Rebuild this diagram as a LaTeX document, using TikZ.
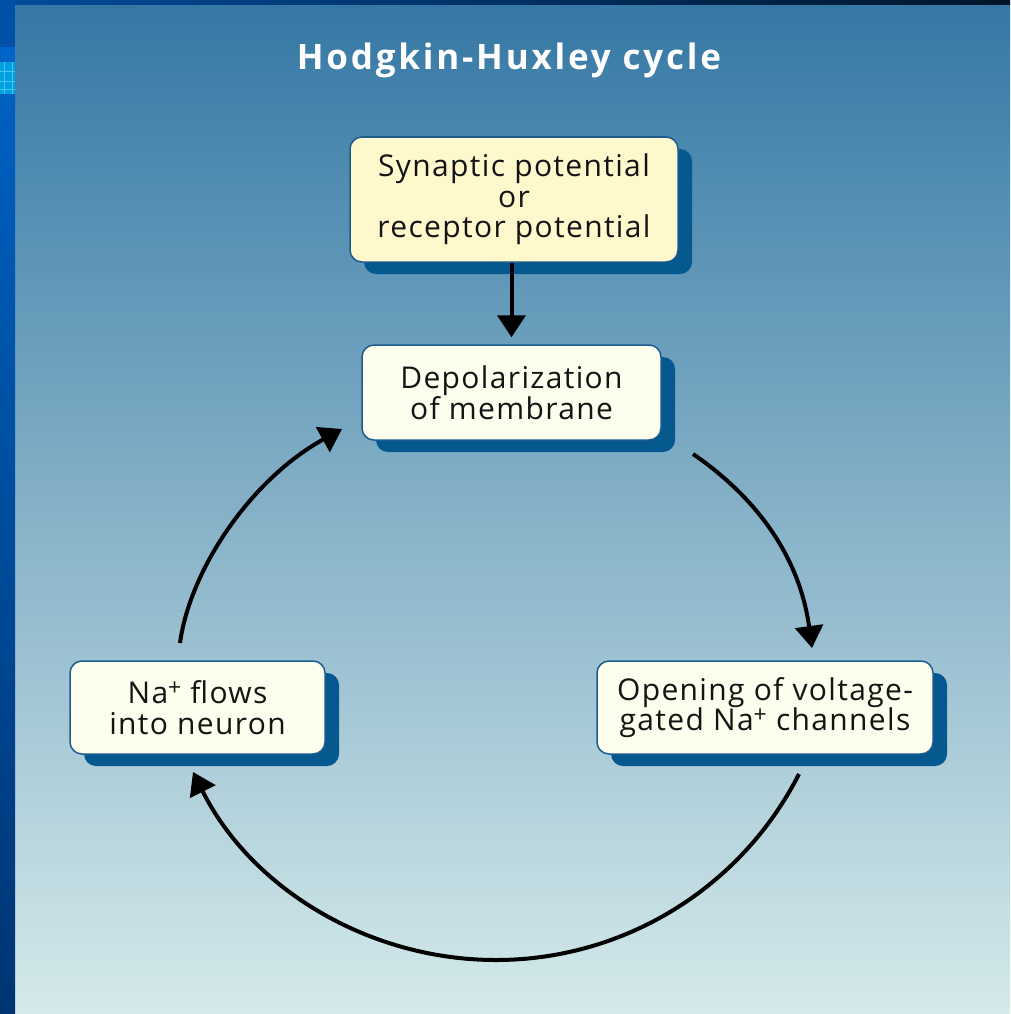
\documentclass[tikz,border=0pt]{standalone}
\usepackage{fontspec}
\setmainfont{Open Sans}
\newfontfamily\boxfont{Open Sans}[LetterSpace=4.5]
\newfontfamily\titlefont{Open Sans}[LetterSpace=8]
\usetikzlibrary{arrows.meta,shadows}
\definecolor{bgtop}{HTML}{3578A5}
\definecolor{bgmid}{HTML}{84ABC8}
\definecolor{bgbot}{HTML}{D5EAEA}
\definecolor{stripA}{HTML}{0050A8}
\definecolor{stripB}{HTML}{0064C8}
\definecolor{stripC}{HTML}{00A0E0}
\definecolor{stripD}{HTML}{40C8F8}
\definecolor{stripE}{HTML}{0060C0}
\definecolor{stripF}{HTML}{003574}
\definecolor{topL}{HTML}{004C9C}
\definecolor{topR}{HTML}{00152A}
\definecolor{boxborder}{HTML}{1B5C8C}
\definecolor{shadowblue}{HTML}{06598F}
\definecolor{fillyellow}{HTML}{FFF8CC}
\definecolor{fillcream}{HTML}{FEFEEE}
\definecolor{ink}{HTML}{141414}
\newcommand{\supplus}{\raisebox{8pt}[0pt][0pt]{\fontsize{23}{23}\selectfont +}}
\tikzset{
  box/.style={rectangle, rounded corners=12pt, draw=boxborder, line width=1.5pt,
    fill=fillcream, inner sep=0pt, align=center, text=ink,
    font=\boxfont\fontsize{30}{30.5}\selectfont,
    drop shadow={shadow xshift=14pt, shadow yshift=-12pt, opacity=1, fill=shadowblue}},
  arr/.style={line width=4pt, draw=black, -{Triangle[length=22pt,width=28pt]}},
}
\begin{document}
\begin{tikzpicture}[x=1pt,y=-1pt]
\useasboundingbox (0,0) rectangle (1010,1014);
% background
\shade[top color=bgtop, middle color=bgmid, bottom color=bgbot] (15,5) rectangle (1010,1014);
\shade[left color=topL, right color=topR] (0,0) rectangle (1010,5);
\fill[stripA] (0,0) rectangle (15,47);
\fill[stripB] (0,47) rectangle (15,62);
\fill[stripC] (0,62) rectangle (15,95);
\foreach \yy in {72,82,90} \draw[stripD, line width=1pt] (0,\yy) -- (15,\yy);
\foreach \xx in {4,12} \draw[stripD, line width=1pt] (\xx,62) -- (\xx,95);
\shade[top color=stripE, bottom color=stripF] (0,95) rectangle (15,1014);
% title
\node[text=white, font=\titlefont\bfseries\fontsize{35}{36}\selectfont] (title) at (509,60) {Hodgkin-Huxley cycle};
% boxes
\node[box, fill=fillyellow, minimum width=328pt, minimum height=125pt] (syn) at (514,199.5)
  {Synaptic potential\\or\\receptor potential};
\node[box, minimum width=299pt, minimum height=95pt] (dep) at (511.5,392.5)
  {Depolarization\\of membrane};
\node[box, minimum width=336pt, minimum height=93pt] (open) at (765,707.5)
  {Opening of voltage-\\gated Na\supplus{} channels};
\node[box, minimum width=255pt, minimum height=93pt] (na) at (197.5,707.5)
  {Na\supplus{} flows\\into neuron};
% connector end points
\coordinate (a1s) at (693,454);
\coordinate (a1e) at (812,648);
\coordinate (a2s) at (799,774);
\coordinate (a2m) at (496,960);
\coordinate (a2e) at (193,772);
\coordinate (a3s) at (180,643);
\coordinate (a3e) at (342,429);
% connectors
\draw[arr, shorten >=7pt] (dep.north |- syn.south) -- (dep.north);
\draw[arr] (a1s) .. controls (760,500) and (800,560) .. (a1e);
\draw[line width=4pt] (a2s) .. controls (741,888) and (624,960) .. (a2m);
\draw[arr] (a2m) .. controls (368,960) and (251,888) .. (a2e);
\draw[arr] (a3s) .. controls (190,570) and (250,480) .. (a3e);
\end{tikzpicture}
\end{document}
